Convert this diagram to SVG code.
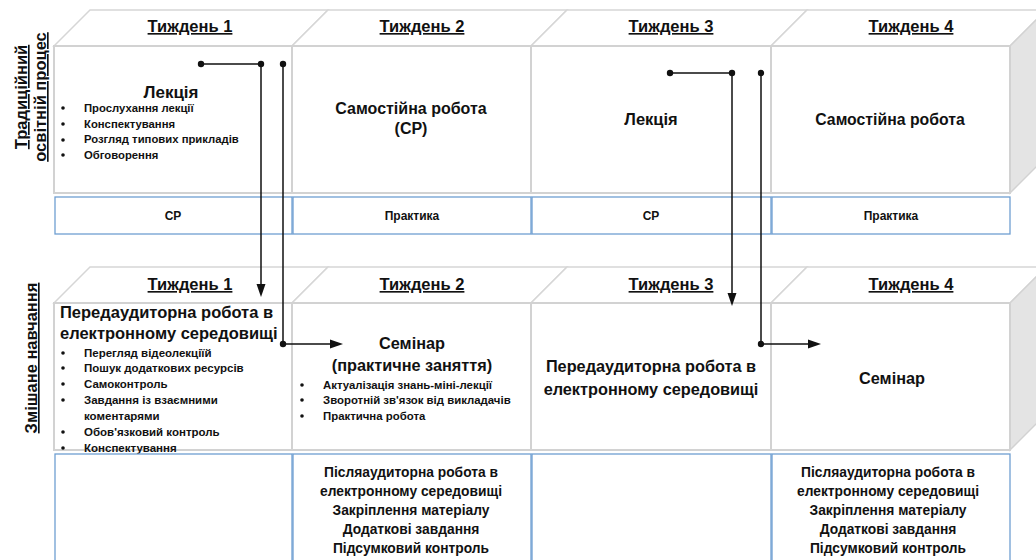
<svg xmlns="http://www.w3.org/2000/svg" width="1036" height="560" viewBox="0 0 1036 560">
<defs>
<style>
text{font-family:"Liberation Sans",Arial,sans-serif;font-weight:bold;fill:#111}
.front{fill:#fff;stroke:#d2d2d2;stroke-width:2}
.top{fill:#fff;stroke:#d6d6d6;stroke-width:1.5}
.side{fill:#e4e4e4;stroke:#d2d2d2;stroke-width:1.5}
.blue{fill:#fff;stroke:#6f9fd2;stroke-width:1.3}
.wk{font-size:16.5px;text-decoration:underline;text-anchor:middle}
.b{font-size:11.3px}
.c{text-anchor:middle}
.conn{fill:none;stroke:#111;stroke-width:1.5}
.ah{fill:#111}
</style>
</defs>
<rect width="1036" height="560" fill="#fff"/>

<g id="labels">
<text transform="translate(27,97) rotate(-90)" class="c" style="font-size:16.5px;text-decoration:underline">Традиційний</text>
<text transform="translate(46,97) rotate(-90)" class="c" style="font-size:16.5px;text-decoration:underline">освітній процес</text>
<text transform="translate(37,358) rotate(-90)" class="c" style="font-size:16.5px;text-decoration:underline">Змішане навчання</text>
</g>

<!-- Top row -->
<g id="t1">
<polygon class="top" points="54,46 90,10 328,10 292,46"/>
<rect class="front" x="54" y="46" width="238" height="147"/>
<text class="wk" x="190" y="32">Тиждень 1</text>
<text class="c" x="171" y="98" style="font-size:17px">Лекція</text>
<g class="b">
<circle cx="63" cy="108" r="1.8" fill="#111"/><text x="84" y="112">Прослухання лекції</text>
<circle cx="63" cy="124" r="1.8" fill="#111"/><text x="84" y="128">Конспектування</text>
<circle cx="63" cy="140" r="1.8" fill="#111"/><text x="84" y="143">Розгляд типових прикладів</text>
<circle cx="63" cy="155" r="1.8" fill="#111"/><text x="84" y="159">Обговорення</text>
</g>
</g>
<g id="t2">
<polygon class="top" points="292,46 328,10 567,10 531,46"/>
<rect class="front" x="292" y="46" width="239" height="147"/>
<text class="wk" x="422" y="32">Тиждень 2</text>
<text class="c" x="411" y="114" style="font-size:16px">Самостійна робота</text>
<text class="c" x="411" y="134" style="font-size:16px">(СР)</text>
</g>
<g id="t3">
<polygon class="top" points="531,46 567,10 807,10 771,46"/>
<rect class="front" x="531" y="46" width="240" height="147"/>
<text class="wk" x="671" y="32">Тиждень 3</text>
<text class="c" x="651" y="125" style="font-size:16.5px">Лекція</text>
</g>
<g id="t4">
<polygon class="top" points="771,46 807,10 1046,10 1010,46"/>
<polygon class="side" points="1010,46 1046,10 1046,157 1010,193"/>
<rect class="front" x="771" y="46" width="239" height="147"/>
<text class="wk" x="911" y="32">Тиждень 4</text>
<text class="c" x="890" y="125" style="font-size:15.8px">Самостійна робота</text>
</g>
<g id="tb">
<rect class="blue" x="55" y="197" width="237" height="37"/>
<text class="c" x="173" y="220" style="font-size:12px">СР</text>
<rect class="blue" x="293" y="197" width="238" height="37"/>
<text class="c" x="412" y="220" style="font-size:12px">Практика</text>
<rect class="blue" x="532" y="197" width="239" height="37"/>
<text class="c" x="651" y="220" style="font-size:12px">СР</text>
<rect class="blue" x="772" y="197" width="238" height="37"/>
<text class="c" x="891" y="220" style="font-size:12px">Практика</text>
</g>

<!-- Bottom row -->
<g id="m1">
<polygon class="top" points="54,303 90,267 328,267 292,303"/>
<rect class="front" x="54" y="303" width="238" height="147"/>
<text class="wk" x="190" y="290">Тиждень 1</text>
<text x="60" y="318" style="font-size:16.5px">Передаудиторна робота в</text>
<text x="60" y="339" style="font-size:16.5px">електронному середовищі</text>
<g style="font-size:11.5px">
<circle cx="63" cy="353" r="1.8" fill="#111"/><text x="84" y="357">Перегляд відеолекціїй</text>
<circle cx="63" cy="368" r="1.8" fill="#111"/><text x="84" y="372">Пошук додаткових ресурсів</text>
<circle cx="63" cy="384" r="1.8" fill="#111"/><text x="84" y="388">Самоконтроль</text>
<circle cx="63" cy="400" r="1.8" fill="#111"/><text x="84" y="404">Завдання із взаємними</text>
<text x="84" y="420">коментарями</text>
<circle cx="63" cy="432" r="1.8" fill="#111"/><text x="84" y="436">Обов'язковий контроль</text>
<circle cx="63" cy="448" r="1.8" fill="#111"/><text x="84" y="452">Конспектування</text>
</g>
</g>
<g id="m2">
<polygon class="top" points="292,303 328,267 567,267 531,303"/>
<rect class="front" x="292" y="303" width="239" height="147"/>
<text class="wk" x="422" y="290">Тиждень 2</text>
<text class="c" x="412" y="349" style="font-size:16.3px">Семінар</text>
<text class="c" x="412" y="371" style="font-size:16.3px">(практичне заняття)</text>
<g style="font-size:11.4px">
<circle cx="302" cy="385" r="1.8" fill="#111"/><text x="323" y="389">Актуалізація знань-міні-лекції</text>
<circle cx="302" cy="400" r="1.8" fill="#111"/><text x="323" y="404">Зворотній зв'язок від викладачів</text>
<circle cx="302" cy="416" r="1.8" fill="#111"/><text x="323" y="420">Практична робота</text>
</g>
</g>
<g id="m3">
<polygon class="top" points="531,303 567,267 807,267 771,303"/>
<rect class="front" x="531" y="303" width="240" height="147"/>
<text class="wk" x="671" y="290">Тиждень 3</text>
<text class="c" x="651" y="372" style="font-size:16.3px">Передаудиторна робота в</text>
<text class="c" x="651" y="395" style="font-size:16.3px">електронному середовищі</text>
</g>
<g id="m4">
<polygon class="top" points="771,303 807,267 1046,267 1010,303"/>
<polygon class="side" points="1010,303 1046,267 1046,414 1010,450"/>
<rect class="front" x="771" y="303" width="239" height="147"/>
<text class="wk" x="911" y="290">Тиждень 4</text>
<text class="c" x="892" y="384" style="font-size:16.3px">Семінар</text>
</g>
<g id="mb">
<rect class="blue" x="55" y="454" width="237" height="110"/>
<rect class="blue" x="293" y="454" width="238" height="110"/>
<g class="c" style="font-size:13.8px">
<text x="411" y="477">Післяаудиторна робота в</text>
<text x="411" y="496">електронному середовищі</text>
<text x="411" y="515">Закріплення матеріалу</text>
<text x="411" y="534">Додаткові завдання</text>
<text x="411" y="553">Підсумковий контроль</text>
</g>
<rect class="blue" x="532" y="454" width="239" height="110"/>
<rect class="blue" x="772" y="454" width="238" height="110"/>
<g class="c" style="font-size:13.8px">
<text x="888" y="477">Післяаудиторна робота в</text>
<text x="888" y="496">електронному середовищі</text>
<text x="888" y="515">Закріплення матеріалу</text>
<text x="888" y="534">Додаткові завдання</text>
<text x="888" y="553">Підсумковий контроль</text>
</g>
</g>

<g id="connectors">
<path class="conn" d="M201,64 H261 V285"/>
<polygon class="ah" points="256.5,284 265.5,284 261,297"/>
<path class="conn" d="M283,64 V344 H331"/>
<polygon class="ah" points="330,339.5 330,348.5 343,344"/>
<path class="conn" d="M670,73 H732 V294"/>
<polygon class="ah" points="727.5,293 736.5,293 732,306"/>
<path class="conn" d="M761,73 V344 H809"/>
<polygon class="ah" points="808,339.5 808,348.5 821,344"/>
<g fill="#111">
<circle cx="201" cy="64" r="3.2"/><circle cx="261" cy="64" r="3.2"/>
<circle cx="283" cy="64" r="3.2"/><circle cx="283" cy="344" r="3.2"/>
<circle cx="670" cy="73" r="3.2"/><circle cx="732" cy="73" r="3.2"/>
<circle cx="761" cy="73" r="3.2"/><circle cx="761" cy="344" r="3.2"/>
</g>
</g>
</svg>
